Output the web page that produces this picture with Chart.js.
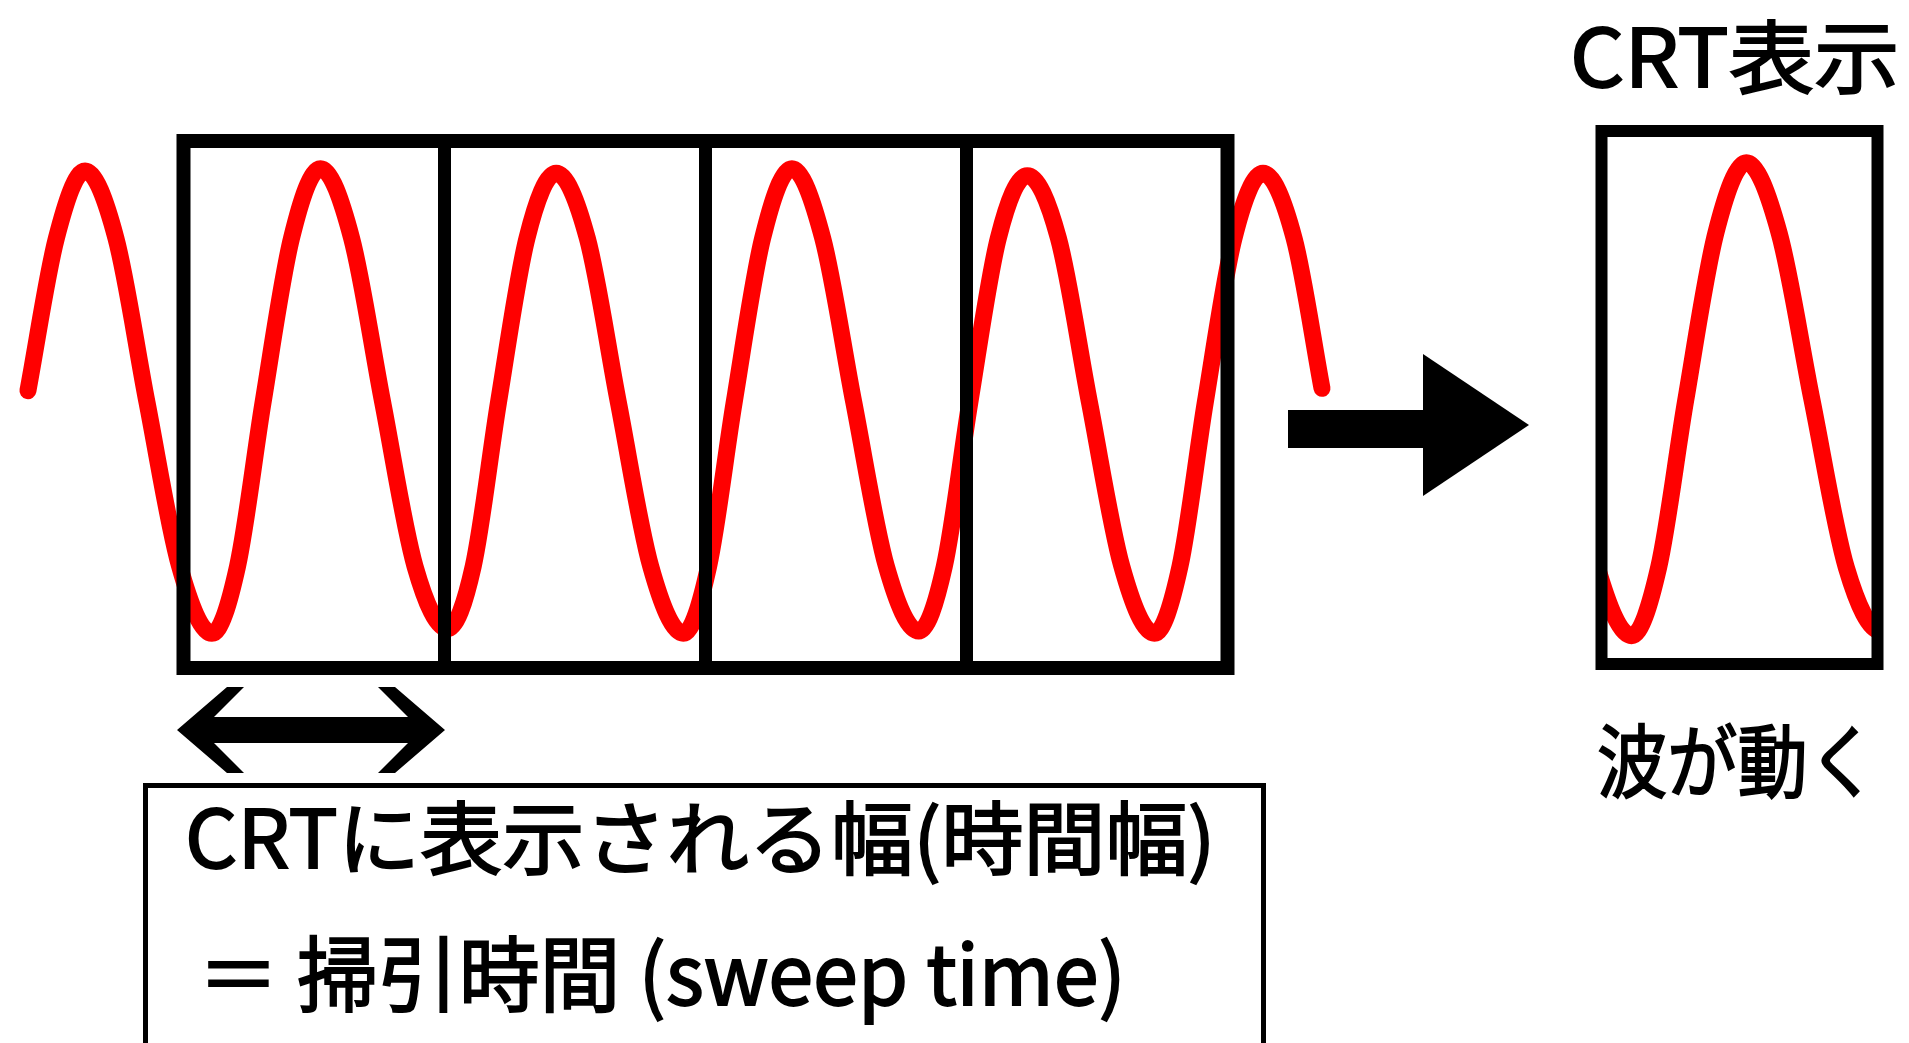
<!DOCTYPE html>
<html lang="ja">
<head>
<meta charset="utf-8">
<title>掃引時間 (sweep time)</title>
<script src="https://cdn.jsdelivr.net/npm/chart.js@4.4.1/dist/chart.umd.min.js"></script>
<style>
  html, body { margin: 0; padding: 0; background: #fff; overflow: hidden; }
  body { width: 1909px; height: 1043px; position: relative; }
  canvas { position: absolute; left: 0; top: 0; }
  .txt {
    position: absolute; white-space: nowrap; color: #000;
    font-family: "Noto Sans CJK JP", sans-serif; font-weight: 400;
    -webkit-text-stroke: 1.8px #000;
    line-height: 1; transform-origin: 0 0;
  }
  #note {
    position: absolute; left: 143px; top: 783px; width: 1123px; height: 400px;
    border: 5px solid #000; box-sizing: border-box;
  }
</style>
</head>
<body>
<canvas id="mainChart" width="1909" height="1043"></canvas>
<canvas id="crtChart" width="1909" height="1043"></canvas>

<div id="note"></div>
<div class="txt" data-w="1031" style="left:185px; top:793px; font-size:80px;">CRTに表示される幅(時間幅)</div>
<div class="txt" data-w="928" style="left:198px; top:929px; font-size:82px;">＝ 掃引時間 (sweep time)</div>
<div class="txt" data-w="330" style="left:1570px; top:12px; font-size:80px;">CRT表示</div>
<div class="txt" data-w="281" style="left:1597px; top:716px; font-size:80px;">波が動く</div>

<script>
// signal: time in sweeps (0 = left edge of the first window)
const timeMs = [-0.596, -0.487, -0.377, -0.259, -0.140, -0.015, 0.109, 0.207, 0.305, 0.414,
  0.525, 0.644, 0.763, 0.887, 1.012, 1.110, 1.207, 1.316,
  1.428, 1.547, 1.666, 1.790, 1.915, 2.012, 2.110, 2.219,
  2.331, 2.449, 2.568, 2.693, 2.817, 2.915, 3.013, 3.122,
  3.233, 3.352, 3.471, 3.595, 3.720, 3.818, 3.915, 4.025,
  4.136, 4.255, 4.362];
const signalV = [0.05, 0.71, 1.00, 0.71, 0.00, -0.71, -1.00, -0.71, 0.00, 0.71,
  1.01, 0.71, 0.00, -0.71, -0.98, -0.71, 0.00, 0.71,
  0.99, 0.71, 0.00, -0.71, -1.00, -0.71, 0.00, 0.71,
  1.01, 0.71, 0.00, -0.71, -0.99, -0.71, 0.00, 0.71,
  0.98, 0.71, 0.00, -0.71, -1.00, -0.71, 0.00, 0.71,
  0.99, 0.71, 0.06];
// sweep windows drawn as boxes, and the one shown on the CRT
const sweepEdges = [0, 1, 2, 3, 4];
const crtWindow = [0, 1];

const wavePoints = timeMs.map((t, i) => ({ x: t, y: signalV[i] }));

function waveDataset(clip) {
  return {
    data: wavePoints,
    borderColor: "#ff0000",
    borderWidth: 17,
    borderCapStyle: "round",
    borderJoinStyle: "round",
    cubicInterpolationMode: "monotone",
    pointRadius: 0,
    fill: false,
    clip: clip
  };
}

// boxes over the wave, the double arrow under the first window, the big arrow
const mainFrame = {
  id: "mainFrame",
  afterDatasetsDraw(chart) {
    const { ctx, chartArea: a, scales: { x } } = chart;
    const x0 = x.getPixelForValue(sweepEdges[0]);
    const xN = x.getPixelForValue(sweepEdges[sweepEdges.length - 1]);
    ctx.save();
    ctx.strokeStyle = "#000";
    ctx.fillStyle = "#000";
    ctx.lineWidth = 14;
    ctx.strokeRect(x0, a.top, xN - x0, a.bottom - a.top);
    ctx.lineWidth = 13;
    sweepEdges.slice(1, -1).forEach(t => {
      const px = x.getPixelForValue(t);
      ctx.beginPath();
      ctx.moveTo(px, a.top);
      ctx.lineTo(px, a.bottom);
      ctx.stroke();
    });

    // double arrow = one sweep
    const xl = x.getPixelForValue(sweepEdges[0]) - 6.5;
    const xr = x.getPixelForValue(sweepEdges[1]) + 0.5;
    const yc = a.bottom + 62;
    ctx.fillRect(xl + 18, yc - 13, xr - xl - 36, 26);
    [[xl, 1], [xr, -1]].forEach(([tip, d]) => {
      ctx.beginPath();
      ctx.moveTo(tip, yc);
      ctx.lineTo(tip + d * 50, yc - 43);
      ctx.lineTo(tip + d * 67, yc - 43);
      ctx.lineTo(tip + d * 24, yc);
      ctx.lineTo(tip + d * 67, yc + 43);
      ctx.lineTo(tip + d * 50, yc + 43);
      ctx.closePath();
      ctx.fill();
    });

    // arrow towards the CRT
    ctx.fillRect(1288, 410, 137, 38);
    ctx.beginPath();
    ctx.moveTo(1423, 354);
    ctx.lineTo(1529, 425);
    ctx.lineTo(1423, 496);
    ctx.closePath();
    ctx.fill();
    ctx.restore();
  }
};

const crtFrame = {
  id: "crtFrame",
  afterDatasetsDraw(chart) {
    const { ctx, chartArea: a } = chart;
    ctx.save();
    ctx.strokeStyle = "#000";
    ctx.lineWidth = 12;
    ctx.strokeRect(a.left, a.top, a.right - a.left, a.bottom - a.top);
    ctx.restore();
  }
};

const common = {
  responsive: false,
  animation: false,
  events: [],
  plugins: { legend: { display: false }, tooltip: { enabled: false } }
};

// x runs past the four windows so the whole wave is kept
new Chart(document.getElementById("mainChart"), {
  type: "line",
  data: { datasets: [waveDataset(false)] },
  options: {
    ...common,
    layout: { padding: { left: 0.8, right: 577.1, top: 141, bottom: 375 } },
    scales: {
      x: { type: "linear", min: -0.7, max: 4.4, display: false },
      y: { min: -1.15, max: 1.13, display: false }
    }
  },
  plugins: [mainFrame]
});

new Chart(document.getElementById("crtChart"), {
  type: "line",
  data: { datasets: [waveDataset(0)] },
  options: {
    ...common,
    layout: { padding: { left: 1601.5, right: 31.5, top: 131, bottom: 379 } },
    scales: {
      x: { type: "linear", min: crtWindow[0], max: crtWindow[1], display: false },
      y: { min: -1.12, max: 1.145, display: false }
    }
  },
  plugins: [crtFrame]
});

// squeeze each label to the width it has in the picture
function fitText() {
  document.querySelectorAll(".txt").forEach(el => {
    el.style.transform = "none";
    const w = el.offsetWidth;
    el.style.transform = "scaleX(" + (el.dataset.w / w) + ")";
  });
}
fitText();
if (document.fonts) document.fonts.ready.then(fitText);
</script>
</body>
</html>
